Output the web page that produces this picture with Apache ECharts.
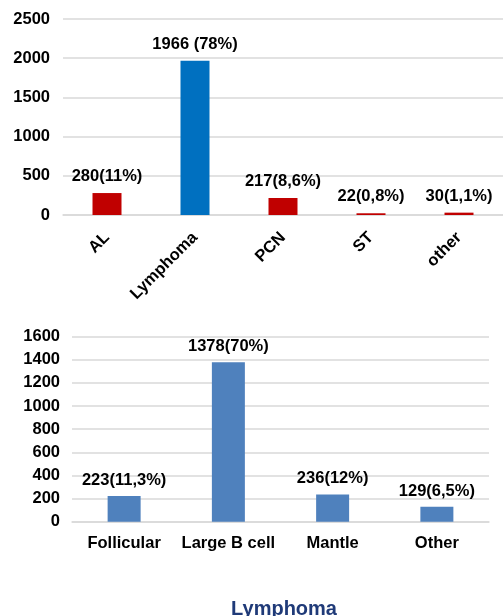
<!DOCTYPE html>
<html>
<head>
<meta charset="utf-8">
<script src="https://cdn.jsdelivr.net/npm/echarts@6/dist/echarts.min.js"></script>
<style>
html,body{margin:0;padding:0;background:#fff;}
#c{width:503px;height:616px;}
</style>
</head>
<body>
<div id="c"></div>
<script>
// ---- data ----
const topCategories = ["AL", "Lymphoma", "PCN", "ST", "other"];
const topValues = [280, 1966, 217, 22, 30];
const topLabels = ["280(11%)", "1966 (78%)", "217(8,6%)", "22(0,8%)", "30(1,1%)"];
const topTicks = [0, 500, 1000, 1500, 2000, 2500];

const lymCategories = ["Follicular", "Large B cell", "Mantle", "Other"];
const lymValues = [223, 1378, 236, 129];
const lymLabels = ["223(11,3%)", "1378(70%)", "236(12%)", "129(6,5%)"];
const lymTicks = [0, 200, 400, 600, 800, 1000, 1200, 1400, 1600];

const titleText = "Lymphoma";

// ---- styles ----
const RED = "#C00000", BLUE = "#0070C0", STEEL = "#4F81BD";
const topColors = topCategories.map((c, i) => i === 1 ? BLUE : RED);
const FONT = "Liberation Sans, Arial, sans-serif";
const FS = 16.5;
const gridLine = { show: true, lineStyle: { color: "#D9D9D9", width: 1.5 } };
const plain = v => String(v);

const chart = echarts.init(document.getElementById("c"), null, { renderer: "canvas" });
chart.setOption({
  animation: false,
  backgroundColor: "#fff",
  title: {
    text: titleText, left: 279, top: 594, textAlign: "center",
    textStyle: { fontFamily: FONT, fontSize: 20, fontWeight: "bold", color: "#1F3A78" }
  },
  grid: [
    { left: 63, top: 19, width: 445, height: 196, containLabel: false },
    { left: 72, top: 336.7, width: 417, height: 185, containLabel: false }
  ],
  xAxis: [
    {
      gridIndex: 0, type: "category", data: topCategories,
      axisLine: { show: true, lineStyle: { color: "#D9D9D9", width: 1.5 } },
      axisTick: { show: false },
      axisLabel: { rotate: 45, margin: 20, interval: 0, color: "#000", fontFamily: FONT, fontSize: FS, fontWeight: "bold" }
    },
    {
      gridIndex: 1, type: "category", data: lymCategories,
      axisLine: { show: true, lineStyle: { color: "#D9D9D9", width: 1.5 } },
      axisTick: { show: false },
      axisLabel: { margin: 13, interval: 0, color: "#000", fontFamily: FONT, fontSize: FS, fontWeight: "bold" }
    }
  ],
  yAxis: [
    {
      gridIndex: 0, type: "value", min: topTicks[0], max: topTicks[topTicks.length - 1],
      interval: topTicks[1] - topTicks[0],
      axisLine: { show: false }, axisTick: { show: false }, splitLine: gridLine,
      axisLabel: { margin: 13, formatter: plain, color: "#000", fontFamily: FONT, fontSize: FS, fontWeight: "bold" }
    },
    {
      gridIndex: 1, type: "value", min: lymTicks[0], max: lymTicks[lymTicks.length - 1],
      interval: lymTicks[1] - lymTicks[0],
      axisLine: { show: false }, axisTick: { show: false }, splitLine: gridLine,
      axisLabel: { margin: 12, formatter: plain, color: "#000", fontFamily: FONT, fontSize: FS, fontWeight: "bold" }
    }
  ],
  series: [
    {
      type: "bar", xAxisIndex: 0, yAxisIndex: 0, barWidth: 29,
      data: topValues.map((v, i) => ({ value: v, itemStyle: { color: topColors[i] } })),
      label: {
        show: true, position: "top", distance: 8,
        formatter: p => topLabels[p.dataIndex],
        color: "#000", fontFamily: FONT, fontSize: FS, fontWeight: "bold"
      }
    },
    {
      type: "bar", xAxisIndex: 1, yAxisIndex: 1, barWidth: 33,
      itemStyle: { color: STEEL },
      data: lymValues,
      label: {
        show: true, position: "top", distance: 7,
        formatter: p => lymLabels[p.dataIndex],
        color: "#000", fontFamily: FONT, fontSize: FS, fontWeight: "bold"
      }
    }
  ]
});
</script>
</body>
</html>
